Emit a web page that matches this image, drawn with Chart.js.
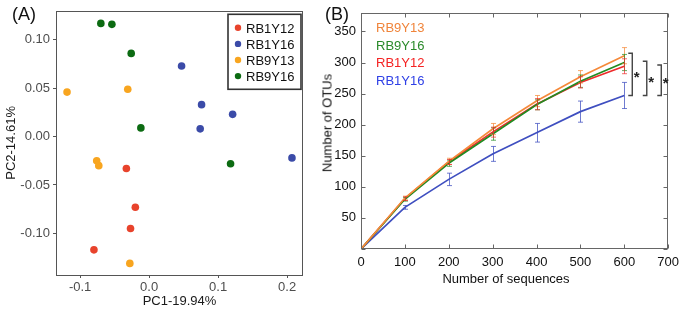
<!DOCTYPE html>
<html><head><meta charset="utf-8">
<script src="https://cdn.jsdelivr.net/npm/chart.js@4/dist/chart.umd.min.js"></script>
<style>
html,body{margin:0;padding:0;background:#fff;}
#wrap{position:relative;width:685px;height:313px;overflow:hidden;font-family:"Liberation Sans",Arial,sans-serif;color:#111;}
canvas{position:absolute;top:0;}
#cA{left:0;}
#cB{left:300px;}
.panel{position:absolute;font-size:18px;line-height:20px;color:#111;}
.ttl{position:absolute;font-size:13px;line-height:15px;color:#111;white-space:nowrap;transform:translate(-50%,-50%);}
</style></head><body>
<div id="wrap">
<canvas id="cA" width="320" height="313"></canvas>
<canvas id="cB" width="385" height="313"></canvas>
<div class="panel" style="left:12px;top:4px;">(A)</div>
<div class="panel" style="left:325px;top:4px;">(B)</div>
<div class="ttl" style="left:327px;top:123px;transform:translate(-50%,-50%) rotate(-90deg);">Number of OTUs</div>
<div class="ttl" style="left:506px;top:278px;">Number of sequences</div>
</div>
<script>
// ---------- Panel A: PCA scores ----------
const pcaGroups = ['RB1Y12','RB1Y16','RB9Y13','RB9Y16'];
const pc1_RB1Y12 = [-0.033,-0.020,-0.027,-0.080];
const pc2_RB1Y12 = [-0.033,-0.073,-0.095,-0.117];
const pc1_RB1Y16 = [0.047,0.076,0.121,0.074,0.207];
const pc2_RB1Y16 = [0.073,0.033,0.023,0.008,-0.022];
const pc1_RB9Y13 = [-0.119,-0.031,-0.076,-0.073,-0.028];
const pc2_RB9Y13 = [0.046,0.049,-0.025,-0.030,-0.131];
const pc1_RB9Y16 = [-0.070,-0.054,-0.026,-0.012,0.118];
const pc2_RB9Y16 = [0.117,0.116,0.086,0.009,-0.028];

// ---------- Panel B: rarefaction curves ----------
const seqDepth = [0,100,200,300,400,500,600];
const rareGroups = ['RB9Y13','RB9Y16','RB1Y12','RB1Y16'];
const otu_RB9Y13 = [0,82,141,193,238,277,311];
const otu_RB9Y16 = [0,80,138,185,232,270,300];
const otu_RB1Y12 = [0,81,140,188,233,268,294];
const otu_RB1Y16 = [0,67,112,153,187,221,247];
const err_RB9Y13 = [0,3,5,9,9,10,13];
const err_RB9Y16 = [0,3,5,10,8,10,13];
const err_RB1Y12 = [0,3,4,8,9,9,12];
const err_RB1Y16 = [0,3,10,12,15,17,21];

const FONT = '"Liberation Sans", Arial, sans-serif';
Chart.defaults.font.family = FONT;
Chart.defaults.font.size = 13;
Chart.defaults.animation = false;

const colA = {RB1Y12:'#E8432C', RB1Y16:'#3B4BA8', RB9Y13:'#F8A51F', RB9Y16:'#0C6B12'};
const pcaX = {RB1Y12:pc1_RB1Y12, RB1Y16:pc1_RB1Y16, RB9Y13:pc1_RB9Y13, RB9Y16:pc1_RB9Y16};
const pcaY = {RB1Y12:pc2_RB1Y12, RB1Y16:pc2_RB1Y16, RB9Y13:pc2_RB9Y13, RB9Y16:pc2_RB9Y16};

const plotA = {
  id:'plotA',
  afterDraw(chart){
    const {ctx, chartArea:a} = chart;
    ctx.save();
    ctx.strokeStyle = '#555'; ctx.lineWidth = 1;
    ctx.strokeRect(Math.round(a.left)+0.5, Math.round(a.top)+0.5, Math.round(a.right-a.left)-1, Math.round(a.bottom-a.top));
    // legend box
    const bx = a.right - 75, by = a.top + 3.5, bw = 73, bh = 75;
    ctx.strokeStyle = '#333'; ctx.lineWidth = 1.6;
    ctx.strokeRect(bx, by, bw, bh);
    ctx.font = '13px ' + FONT; ctx.textBaseline = 'middle'; ctx.textAlign = 'left';
    chart.data.datasets.forEach((d,i)=>{
      const cy = by + 15 + i*16.1;
      ctx.fillStyle = d.backgroundColor;
      ctx.beginPath(); ctx.arc(bx + 10, cy - 1.5, 3.2, 0, Math.PI*2); ctx.fill();
      ctx.fillStyle = '#111';
      ctx.fillText(d.label, bx + 18, cy);
    });
    ctx.restore();
  }
};

new Chart(document.getElementById('cA'), {
  type:'scatter',
  data:{ datasets: pcaGroups.map(g=>({
    label:g,
    data: pcaX[g].map((x,i)=>({x, y:pcaY[g][i]})),
    backgroundColor: colA[g], borderColor: colA[g], borderWidth:0,
    pointRadius:3.8, pointHoverRadius:3.8
  }))},
  options:{
    responsive:false, animation:false,
    layout:{padding:{top:9, right:17, left:0, bottom:0}},
    plugins:{legend:{display:false}, tooltip:{enabled:false}},
    scales:{
      x:{ type:'linear', min:-0.135, max:0.223,
          afterFit(s){ s.height = 38; },
          border:{display:false},
          grid:{display:true, drawOnChartArea:false, drawTicks:true, tickLength:3, color:'#555'},
          ticks:{stepSize:0.1, includeBounds:false, padding:2, color:'#4D4D4D', font:{size:13},
                 callback:v=>Number(v).toFixed(1)},
          title:{display:true, text:'PC1-19.94%', color:'#1a1a1a', font:{size:13}, padding:{top:0,bottom:4}}
      },
      y:{ type:'linear', min:-0.143, max:0.130,
          afterFit(s){ s.width = 56; },
          border:{display:false},
          grid:{display:true, drawOnChartArea:false, drawTicks:true, tickLength:3, color:'#555'},
          ticks:{stepSize:0.05, includeBounds:false, padding:3, color:'#4D4D4D', font:{size:13},
                 callback:v=>Number(v).toFixed(2)},
          title:{display:true, text:'PC2-14.61%', color:'#1a1a1a', font:{size:13}, padding:{top:4,bottom:0}}
      }
    }
  },
  plugins:[plotA]
});

// ---------- Panel B ----------
const lineCol = {RB9Y13:'#F5893A', RB9Y16:'#228B22', RB1Y12:'#EE2B2B', RB1Y16:'#3F4FC0'};
const errCol  = {RB9Y13:'rgba(245,137,58,0.75)', RB9Y16:'rgba(34,139,34,0.7)', RB1Y12:'rgba(238,43,43,0.7)', RB1Y16:'rgba(63,79,192,0.75)'};
const textCol = {RB9Y13:'#F0843A', RB9Y16:'#2A8A2A', RB1Y12:'#F52222', RB1Y16:'#2F40E6'};
const otuMean = {RB9Y13:otu_RB9Y13, RB9Y16:otu_RB9Y16, RB1Y12:otu_RB1Y12, RB1Y16:otu_RB1Y16};
const otuErr  = {RB9Y13:err_RB9Y13, RB9Y16:err_RB9Y16, RB1Y12:err_RB1Y12, RB1Y16:err_RB1Y16};

const plotB = {
  id:'plotB',
  afterDatasetsDraw(chart){
    const {ctx, scales:{x,y}} = chart;
    ctx.save();
    ctx.lineWidth = 1;
    rareGroups.forEach(g=>{
      ctx.strokeStyle = errCol[g];
      seqDepth.forEach((d,i)=>{
        const e = otuErr[g][i]; if (!e) return;
        const px = Math.round(x.getPixelForValue(d)) + 0.5;
        const yt = y.getPixelForValue(otuMean[g][i] + e);
        const yb = y.getPixelForValue(otuMean[g][i] - e);
        ctx.beginPath();
        ctx.moveTo(px, yt); ctx.lineTo(px, yb);
        ctx.moveTo(px-2.5, yt); ctx.lineTo(px+2.5, yt);
        ctx.moveTo(px-2.5, yb); ctx.lineTo(px+2.5, yb);
        ctx.stroke();
      });
    });
    ctx.restore();
  },
  afterDraw(chart){
    const {ctx, chartArea:a, scales:{x,y}} = chart;
    ctx.save();
    // box
    ctx.strokeStyle = '#666'; ctx.lineWidth = 1;
    const L = Math.round(a.left)+0.5, R = Math.round(a.right)-0.5, T = Math.round(a.top)+0.5, B = Math.round(a.bottom)-0.5;
    ctx.strokeRect(L, T, R-L, B-T);
    // inward ticks on all sides
    ctx.beginPath();
    x.ticks.forEach(t=>{
      const px = Math.round(x.getPixelForValue(t.value))+0.5;
      ctx.moveTo(px, B); ctx.lineTo(px, B-4);
      ctx.moveTo(px, T); ctx.lineTo(px, T+4);
    });
    y.ticks.forEach(t=>{
      const py = Math.round(y.getPixelForValue(t.value))+0.5;
      ctx.moveTo(L, py); ctx.lineTo(L+4, py);
      ctx.moveTo(R, py); ctx.lineTo(R-4, py);
    });
    ctx.stroke();
    // significance brackets (RB1Y16 vs each other group at the last depth)
    const last = seqDepth.length - 1;
    const x600 = x.getPixelForValue(seqDepth[last]);
    const yb = y.getPixelForValue(otuMean.RB1Y16[last]);
    ctx.strokeStyle = '#444'; ctx.lineWidth = 1.4;
    ctx.fillStyle = '#222'; ctx.font = 'bold 15px ' + FONT; ctx.textAlign='left'; ctx.textBaseline='middle';
    ['RB9Y13','RB9Y16','RB1Y12'].forEach((g,i)=>{
      const yt = y.getPixelForValue(otuMean[g][last] + (i===0?4:2));
      const x0 = x600 + 4 + i*14.5, x1 = x0 + 4;
      ctx.beginPath();
      ctx.moveTo(x0, yt); ctx.lineTo(x1, yt); ctx.lineTo(x1, yb); ctx.lineTo(x0, yb);
      ctx.stroke();
      ctx.fillText('*', x1 + 1.5, (yt+yb)/2 + 4);
    });
    // text legend
    ctx.font = '13px ' + FONT; ctx.textAlign='left'; ctx.textBaseline='middle';
    chart.data.datasets.forEach((d,i)=>{
      ctx.fillStyle = textCol[d.label];
      ctx.fillText(d.label, a.left + 15, a.top + 15.5 + i*17.8);
    });
    ctx.restore();
  }
};

new Chart(document.getElementById('cB'), {
  type:'line',
  data:{ datasets: rareGroups.map(g=>({
    label:g,
    data: seqDepth.map((d,i)=>({x:d, y:otuMean[g][i]})),
    borderColor: lineCol[g], backgroundColor: lineCol[g],
    borderWidth:1.7, pointRadius:0, tension:0, fill:false
  }))},
  options:{
    responsive:false, animation:false,
    layout:{padding:{top:9, right:12, left:0, bottom:0}},
    plugins:{legend:{display:false}, tooltip:{enabled:false}},
    scales:{
      x:{ type:'linear', min:0, max:700,
          afterFit(s){ s.height = 64; },
          border:{display:false},
          grid:{display:false, drawTicks:false, tickLength:0},
          ticks:{stepSize:100, includeBounds:false, padding:6, color:'#111', font:{size:13}}
      },
      y:{ type:'linear', min:0, max:380,
          afterFit(s){ s.width = 61; },
          border:{display:false},
          grid:{display:false, drawTicks:false, tickLength:0},
          ticks:{stepSize:50, includeBounds:false, padding:5, color:'#111', font:{size:13},
                 callback:v=> v===0 ? '' : String(v)}
      }
    }
  },
  plugins:[plotB]
});
</script>
</body></html>
